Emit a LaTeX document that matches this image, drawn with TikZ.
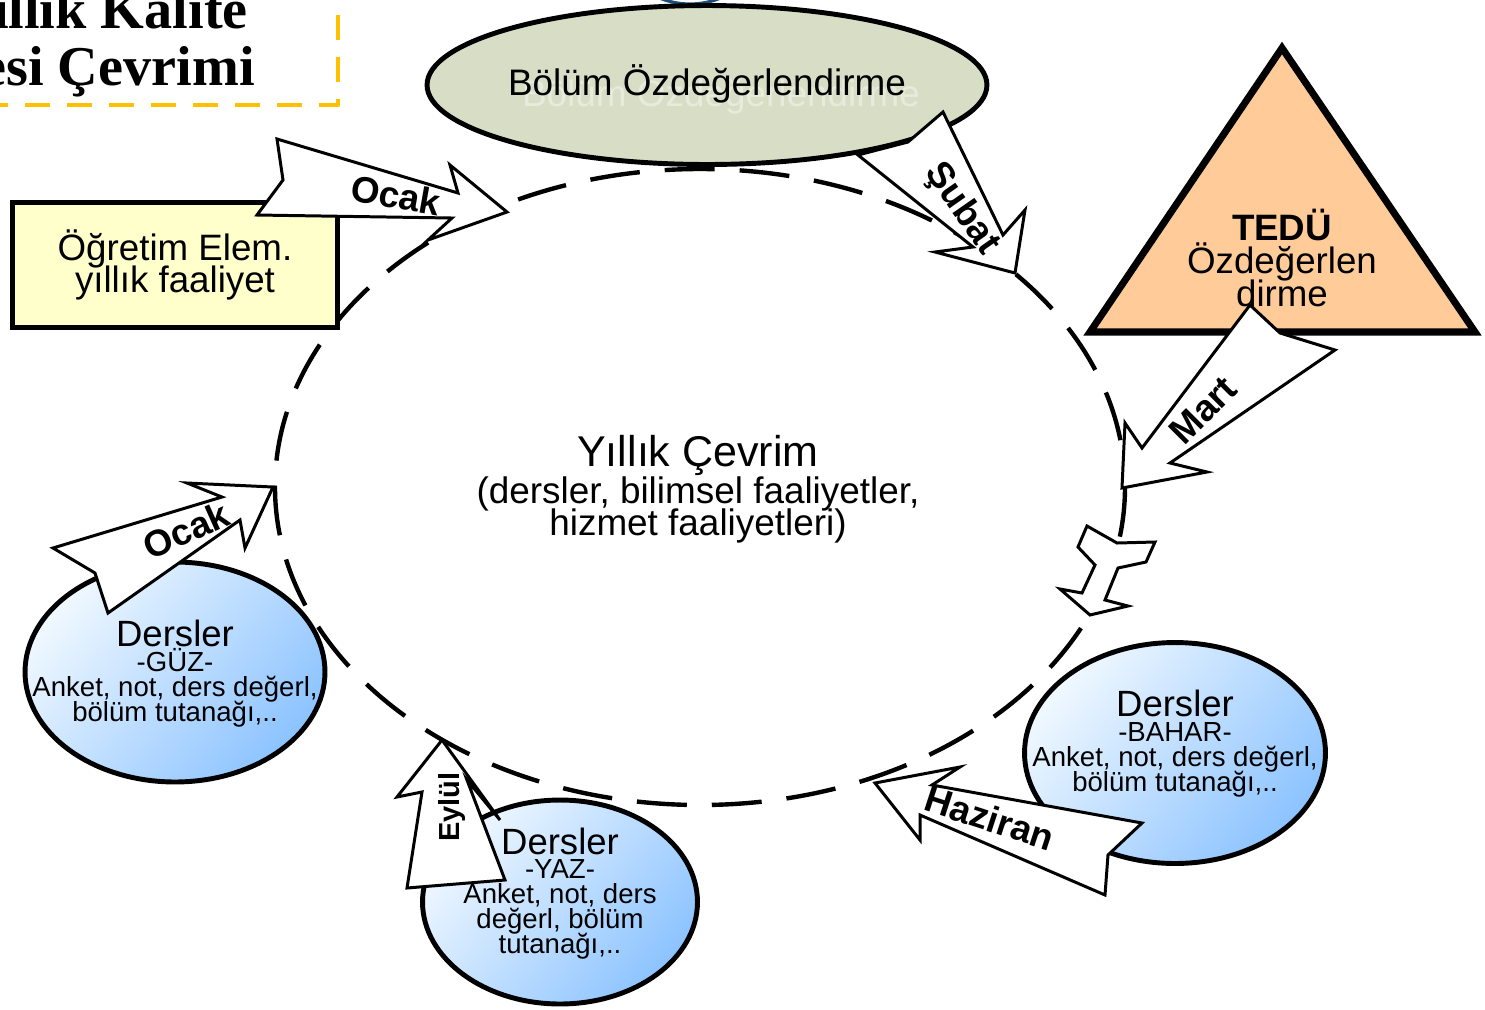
\documentclass[tikz,border=0pt]{standalone}
\usepackage{fontspec}
\setmainfont{Liberation Sans}
\newfontfamily\headfont{Liberation Serif}
\usetikzlibrary{shapes.geometric}

\definecolor{selfgreen}{RGB}{216,222,198}
\definecolor{notepaper}{RGB}{255,255,204}
\definecolor{tedupeach}{RGB}{255,204,153}
\definecolor{termpale}{RGB}{240,248,255}
\definecolor{termblue}{RGB}{140,195,255}
\definecolor{titleorange}{RGB}{255,192,0}
\definecolor{knotblue}{RGB}{31,78,121}
\newcommand\tightlines{\lineskiplimit=-20pt\relax}

\begin{document}
\begin{tikzpicture}[x=0.02cm, y=-0.02cm]
  \tikzset{headline/.style={anchor=base east, inner sep=0pt, font=\headfont\bfseries\fontsize{32}{32}\selectfont}}
  \tikzset{headbox/.style={draw=titleorange, line width=2.8pt, line join=round, dash pattern=on 0.5cm off 0.34cm}}
  \tikzset{cycleline/.style={line width=2.5pt, dash pattern=on 1.0cm off 0.5cm}}
  \tikzset{selfeval/.style={ellipse, draw, line width=2.8pt, fill=selfgreen, minimum width=11.2cm, minimum height=3.18cm, inner sep=0pt}}
  \tikzset{notebox/.style={rectangle, draw, line width=2.8pt, fill=notepaper, minimum width=6.5cm, minimum height=2.5cm, inner sep=0pt, align=center, font=\fontsize{20.9}{18.1}\selectfont\tightlines}}
  \tikzset{term/.style={ellipse, draw, line width=2.8pt, inner sep=0pt, top color=termpale, bottom color=termblue, shading angle=50}}
  \tikzset{termtext/.style={align=center, inner sep=0pt, font=\fontsize{15.7}{14.2}\selectfont\tightlines}}
  \tikzset{blockarrow/.style={draw, fill=white, line width=1.7pt, line join=miter}}
  \tikzset{month/.style={inner sep=0pt, font=\bfseries\fontsize{21}{21}\selectfont}}

  \useasboundingbox (0,0) rectangle (1485,1009);
  \clip (0,0) rectangle (1485,1009);

  % title
  \draw[headbox] (-40,-40) rectangle (338,105);
  \node[headline] (titleA) at (248,28) {Yıllık Kalite};
  \node[headline] (titleB) at (255,85) {Güvencesi Çevrimi};

  % yearly cycle
  \draw[cycleline] (700,487) ellipse [x radius=425, y radius=318];
  \node[align=center, inner sep=0pt, font=\fontsize{21}{18.1}\selectfont\tightlines] (cycle) at (698,489)
    {{\fontsize{24.5}{18.1}\selectfont Yıllık Çevrim}\\[2.9pt](dersler, bilimsel faaliyetler,\\hizmet faaliyetleri)};

  % boxes round the cycle
  \draw[knotblue, line width=1.8pt] (690,-76) circle [radius=80];
  \node[selfeval] (bolum) at (707,85) {};
  \node[inner sep=0pt, font=\fontsize{21}{20}\selectfont, text=white, opacity=0.4] (bolumghost) at (721,95) {Bölüm Özdeğerlendirme};
  \node[inner sep=0pt, font=\fontsize{21}{20}\selectfont] (bolumtext) at (707,84) {Bölüm Özdeğerlendirme};
  \node[notebox] (ogretim) at (175,265) {Öğretim Elem.\\yıllık faaliyet};
  \draw[fill=tedupeach, line width=4pt, line join=miter] (1282,48) coordinate (tedutop) -- (1475,332) -- (1090,332) -- cycle;

  \node[term, minimum width=6cm, minimum height=4.4cm] (guz) at (175,672) {};
  \node[term, minimum width=6.02cm, minimum height=4.42cm] (bahar) at (1175,753) {};
  \node[term, minimum width=5.5cm, minimum height=4.08cm] (yaz) at (560,902) {};

  % month arrows
  \draw[blockarrow] (277,139) -- (458,193) -- (450,165) -- (507,212) -- (428,240) -- (452,218) -- (257,215) -- (283,180) -- cycle;
  \draw[blockarrow] (943,112) -- (1003,235) -- (1025,210) -- (1015,273) -- (935,252) -- (973,247) -- (858,155) -- (908,142) -- cycle;
  \draw[blockarrow] (1250,305) -- (1280,333) -- (1335,350) -- (1170,463) -- (1207,472) -- (1122,488) -- (1125,423) -- (1142,448) -- cycle;
  \draw[blockarrow] (1087,526) -- (1117,543) -- (1155,542) -- (1146,562) -- (1118,568) -- (1105,600) -- (1128,606) -- (1090,615) -- (1060,589) -- (1082,593) -- (1095,565) -- (1078,547) -- cycle;
  \draw[blockarrow] (875,783) -- (960,767) -- (932,785) -- (1142,823) -- (1108,855) -- (1105,895) -- (920,815) -- (920,840) -- cycle;
  \draw[blockarrow] (442,740) -- (500,820) -- (467,780) -- (505,880) -- (407,888) -- (422,792) -- (397,797) -- cycle;
  \draw[blockarrow] (53,548) -- (222,497) -- (187,483) -- (273,487) -- (245,548) -- (240,520) -- (108,613) -- (95,573) -- cycle;

  \node[month, rotate=-10] (ocakA) at (396,195) {Ocak};
  \node[month, rotate=-55] (subat) at (962,209) {Şubat};
  \node[month, rotate=45] (mart) at (1203,410) {Mart};
  \node[month, rotate=-18] (haziran) at (990,818) {Haziran};
  \node[month, rotate=90, font=\bfseries\fontsize{16.5}{16.5}\selectfont] (eylul) at (452,807) {Eylül};
  \node[month, rotate=24] (ocakB) at (186,530) {Ocak};

  % texts on top
  \node[align=center, inner sep=0pt, font=\fontsize{20.9}{18.7}\selectfont\tightlines] (tedu) at (1282,258)
    {\textbf{TEDÜ}\\Özdeğerlen\\dirme};
  \node[termtext] (guztext) at (175,673.5) {{\fontsize{20.8}{14.2}\selectfont Dersler}\\[0.5pt]-GÜZ-\\Anket, not, ders değerl,\\bölüm tutanağı,..};
  \node[termtext] (bahartext) at (1175,743.5) {{\fontsize{20.8}{14.2}\selectfont Dersler}\\[0.5pt]-BAHAR-\\Anket, not, ders değerl,\\bölüm tutanağı,..};
  \node[termtext] (yaztext) at (560,893.5) {{\fontsize{20.8}{14.2}\selectfont Dersler}\\[-0.6pt]-YAZ-\\Anket, not, ders\\değerl, bölüm\\tutanağı,..};
\end{tikzpicture}
\end{document}
